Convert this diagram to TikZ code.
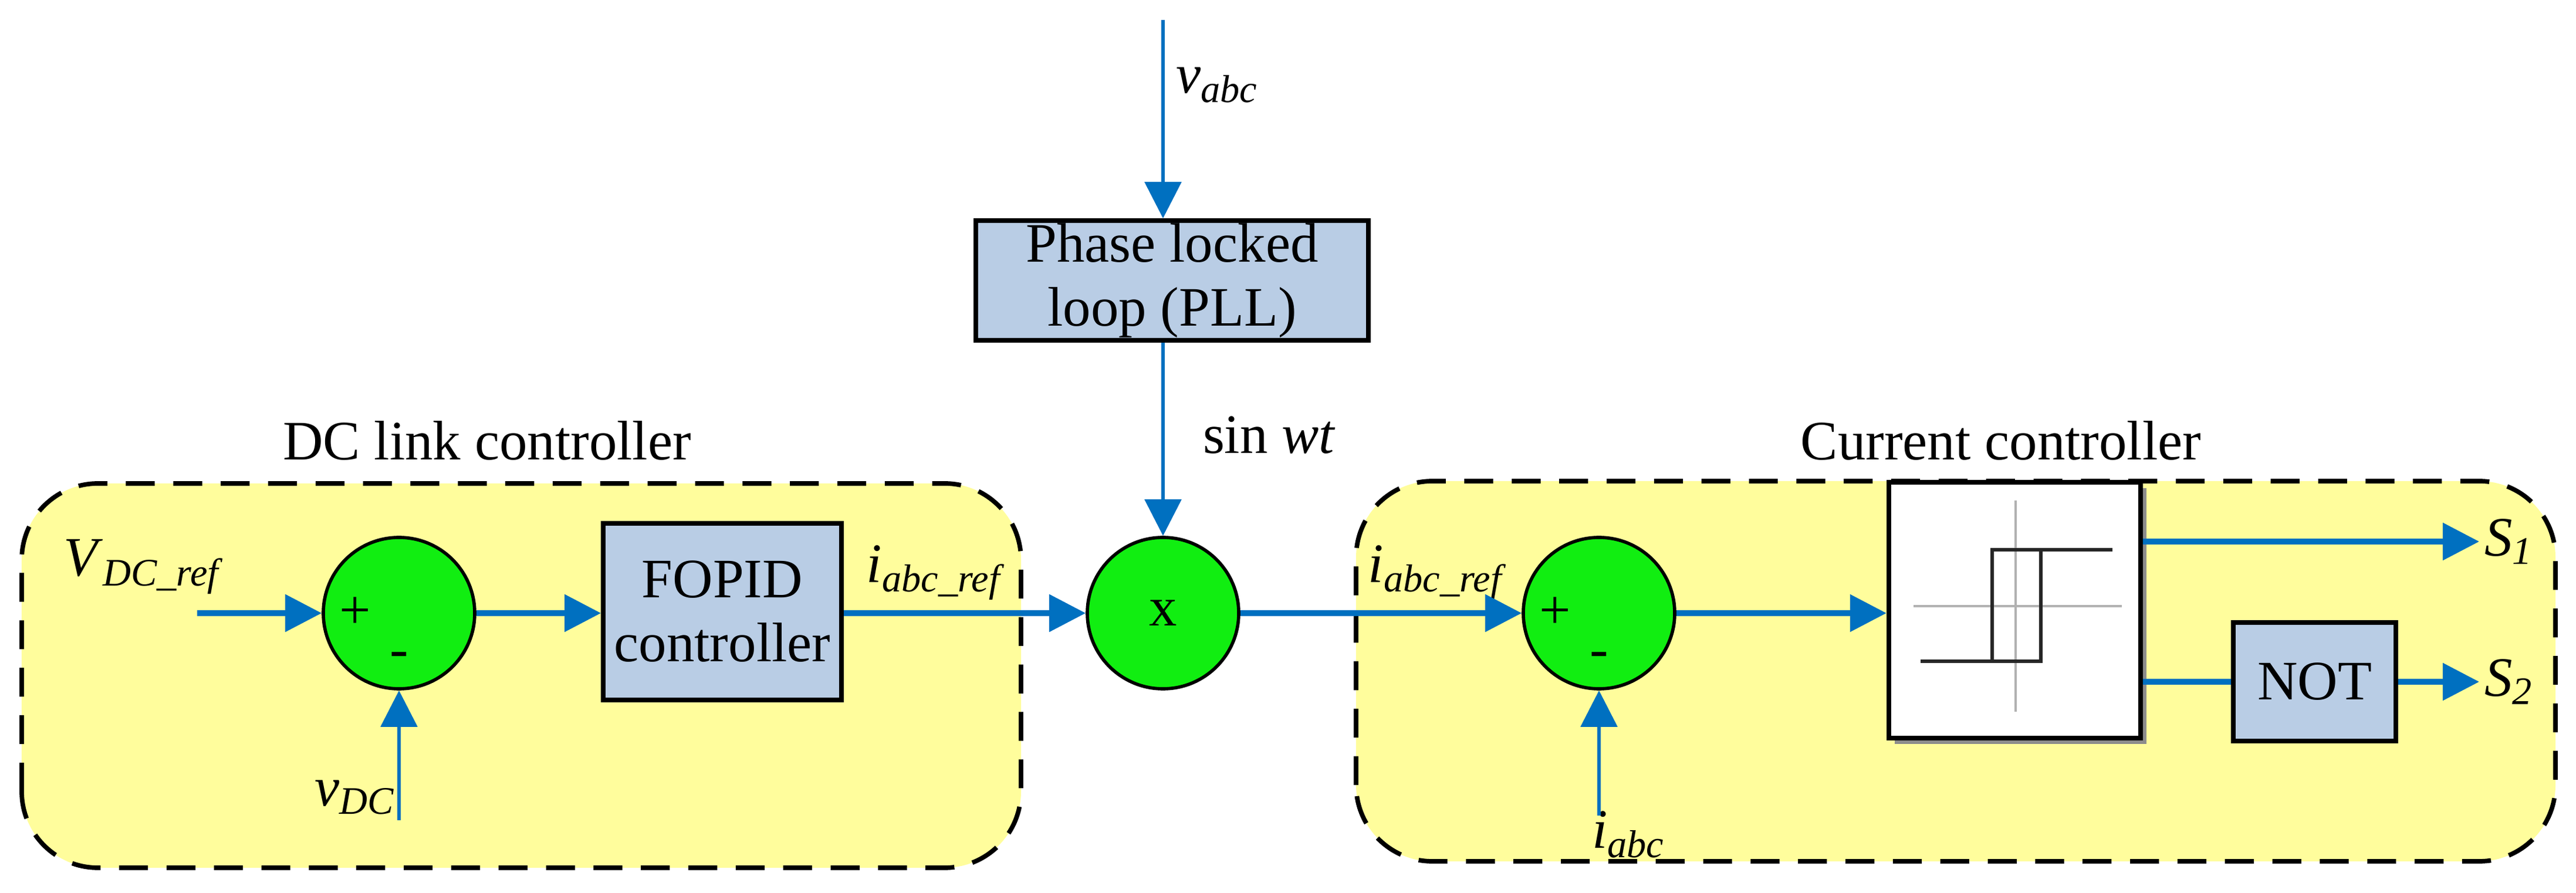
\documentclass[tikz,border=0pt]{standalone}
\usepackage{fontspec}
\setmainfont{Liberation Serif}
\usetikzlibrary{arrows.meta}
\definecolor{sigblue}{HTML}{0070C0}
\definecolor{blockfill}{HTML}{B9CDE5}
\definecolor{zonefill}{HTML}{FFFD9C}
\definecolor{sumgreen}{HTML}{11EE11}
\newcommand{\sig}[2]{\textit{#1}\textsubscript{\textit{#2}}}

\begin{document}
\begin{tikzpicture}[
    font=\fontsize{27}{31}\selectfont,
    zone/.style={draw, line width=2.2pt, dash pattern=on 14pt off 9pt, fill=zonefill, rounded corners=1.3cm},
    block/.style={draw, line width=2.2pt, fill=blockfill, align=center, inner sep=0pt},
    summer/.style={shape=circle, draw, line width=1.6pt, fill=sumgreen, minimum size=2.58cm, inner sep=0pt},
    signal/.style={draw=sigblue, line width=2.6pt, -{Triangle[length=0.62cm, width=0.62cm]}},
    feed/.style={signal, line width=1.6pt},
    lbl/.style={inner sep=1pt},
  ]
  \useasboundingbox (0,0) rectangle (43.9,15.21);

  % Regions
  \draw[zone] (0.37,0.42) rectangle (17.40,6.97);
  \draw[zone] (23.11,0.53) rectangle (43.55,7.01);
  \node[lbl] (dctitle) at (8.3,7.7) {DC link controller};
  \node[lbl] (cctitle) at (34.1,7.7) {Current controller};

  % DC link controller
  \coordinate (vref) at (3.36,4.76);
  \coordinate (vdcin) at (6.80,1.23);
  \node[summer] (sumdc) at (6.80,4.76) {};
  \node at ([xshift=-0.75cm]sumdc.center) {+};
  \node at ([yshift=-0.8cm]sumdc.center) {-};
  \node[block, minimum width=4.06cm, minimum height=3.01cm] (fopid) at (12.31,4.785) {FOPID\\controller};
  \node[lbl] (vreflbl) at (2.45,5.55) {\sig{V}{DC\_ref}};
  \node[lbl] (vdclbl) at (6.05,1.62) {\sig{v}{DC}};
  \draw[signal] (vref) -- (sumdc);
  \draw[feed] (vdcin) -- (sumdc);
  \draw[signal] (sumdc) -- (fopid.west |- sumdc);

  % PLL and multiplier
  \coordinate (vabcin) at (19.82,14.87);
  \node[block, minimum width=6.69cm, minimum height=2.04cm] (pll) at (19.975,10.43) {Phase locked\\loop (PLL)};
  \node[summer] (mult) at (19.82,4.76) {x};
  \node[lbl] (vabclbl) at (20.74,13.76) {\sig{v}{abc}};
  \node[lbl] (sinlbl) at (21.63,7.79) {sin \textit{wt}};
  \node[lbl] (irefl) at (15.95,5.45) {\sig{i}{abc\_ref}};
  \node[lbl] (irefr) at (24.5,5.45) {\sig{i}{abc\_ref}};
  \draw[feed] (vabcin) -- (pll.north -| vabcin);
  \draw[feed] (pll.south -| mult) -- (mult);
  \draw[signal] (fopid.east |- mult) -- (mult);

  % Current controller
  \coordinate (iabcin) at (27.25,1.31);
  \node[summer] (sumcc) at (27.25,4.76) {};
  \node at ([xshift=-0.75cm]sumcc.center) {+};
  \node at ([yshift=-0.8cm]sumcc.center) {-};
  \node[lbl] (iabclbl) at (27.75,0.99) {\sig{i}{abc}};
  \fill[black!45] (32.29,2.53) rectangle (36.58,6.89);
  \node[draw, line width=2.4pt, fill=white, minimum width=4.29cm, minimum height=4.36cm] (hyst) at (34.335,4.81) {};
  \draw[gray!60, line width=1pt] (34.35,6.68) -- (34.35,3.08);
  \draw[gray!60, line width=1.4pt] (32.61,4.88) -- (36.16,4.88);
  \draw[black!85, line width=1.6pt] (32.73,3.94) -- (34.78,3.94) -- (34.78,5.84) -- (36.00,5.84)
    (34.78,5.84) -- (33.95,5.84) -- (33.95,3.94);
  \node[block, minimum width=2.77cm, minimum height=2.02cm] (notg) at (39.445,3.59) {NOT};
  \coordinate (s1) at (42.25,5.98);
  \coordinate (s2) at (42.25,3.59);
  \node[lbl, anchor=west] (s1lbl) at (42.3,5.98) {\sig{S}{1}};
  \node[lbl, anchor=west] (s2lbl) at (42.3,3.59) {\sig{S}{2}};
  \draw[signal] (mult) -- (sumcc);
  \draw[feed] (iabcin) -- (sumcc);
  \draw[signal] (sumcc) -- (hyst.west |- sumcc);
  \draw[signal] (hyst.east |- s1) -- (s1);
  \draw[sigblue, line width=2.6pt] (hyst.east |- notg) -- (notg);
  \draw[signal] (notg) -- (s2);
\end{tikzpicture}
\end{document}
